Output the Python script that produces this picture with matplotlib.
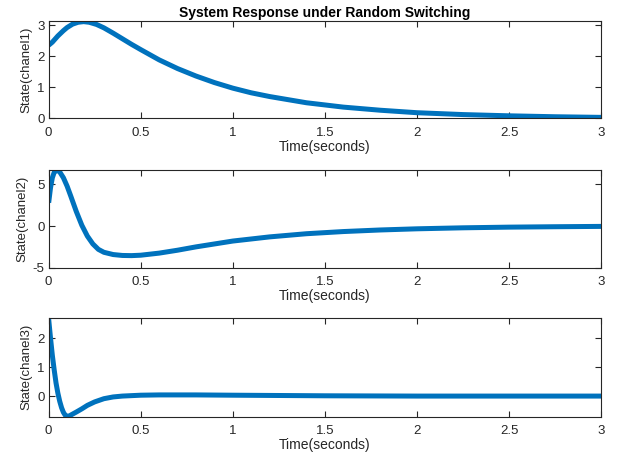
import numpy as np
import matplotlib.pyplot as plt

plt.rcParams['font.family'] = ['Liberation Sans', 'DejaVu Sans']
plt.rcParams['axes.unicode_minus'] = False

# values
t1 = [0, 0.02, 0.05, 0.08, 0.1, 0.13, 0.16, 0.19, 0.22, 0.26, 0.3, 0.35, 0.4, 0.45, 0.5,
      0.6, 0.7, 0.8, 0.9, 1.0, 1.1, 1.2, 1.4, 1.6, 1.8, 2.0, 2.25, 2.5, 2.75, 3.0]
chanel1 = [2.35, 2.45, 2.65, 2.82, 2.92, 3.03, 3.09, 3.11, 3.09, 3.02, 2.91, 2.74, 2.56, 2.38, 2.21,
           1.88, 1.6, 1.36, 1.15, 0.97, 0.82, 0.7, 0.5, 0.36, 0.26, 0.18, 0.12, 0.08, 0.05, 0.03]

t2 = [0, 0.01, 0.02, 0.03, 0.045, 0.06, 0.08, 0.1, 0.12, 0.15, 0.18, 0.21, 0.24, 0.27, 0.3, 0.35,
      0.4, 0.45, 0.5, 0.6, 0.7, 0.8, 0.9, 1.0, 1.2, 1.4, 1.6, 1.8, 2.0, 2.25, 2.5, 2.75, 3.0]
chanel2 = [2.8, 4.6, 5.8, 6.45, 6.7, 6.5, 5.8, 4.8, 3.6, 1.75, 0.1, -1.2, -2.15, -2.8, -3.15, -3.42,
           -3.53, -3.55, -3.5, -3.25, -2.9, -2.5, -2.15, -1.8, -1.3, -0.92, -0.66, -0.47, -0.33, -0.21, -0.13, -0.08, -0.04]

t3 = [0, 0.01, 0.02, 0.03, 0.04, 0.05, 0.06, 0.07, 0.08, 0.09, 0.1, 0.11, 0.13, 0.15, 0.18,
      0.21, 0.25, 0.3, 0.35, 0.4, 0.5, 0.6, 0.7, 0.8, 1.0, 1.25, 1.5, 2.0, 2.5, 3.0]
chanel3 = [2.65, 2.0, 1.4, 0.9, 0.45, 0.1, -0.18, -0.4, -0.56, -0.66, -0.7, -0.69, -0.62, -0.55, -0.44,
           -0.32, -0.2, -0.09, -0.03, 0.0, 0.03, 0.04, 0.04, 0.04, 0.03, 0.02, 0.01, 0.0, 0.0, 0.0]

series = [(t1, chanel1, 'State(chanel1)', (0, 3.14), [0, 1, 2, 3]),
          (t2, chanel2, 'State(chanel2)', (-5, 6.73), [-5, 0, 5]),
          (t3, chanel3, 'State(chanel3)', (-0.71, 2.69), [0, 1, 2])]

xticks = [0, 0.5, 1, 1.5, 2, 2.5, 3]
xtick_labels = ['0', '0.5', '1', '1.5', '2', '2.5', '3']

fig = plt.figure(figsize=(6.2, 4.58), dpi=100)
rects = [[0.0785, 0.7417, 0.891, 0.2131],
         [0.0785, 0.4155, 0.891, 0.2133],
         [0.0785, 0.0902, 0.891, 0.2155]]

for rect, (t, y, lab, yl, yt) in zip(rects, series):
    ax = fig.add_axes(rect)
    ax.plot(t, y, color='#0072BD', lw=3.6, solid_capstyle='butt', solid_joinstyle='round')
    ax.set_xlim(0, 3)
    ax.set_ylim(*yl)
    ax.set_xticks(xticks)
    ax.set_xticklabels(xtick_labels)
    ax.set_yticks(yt)
    ax.tick_params(direction='in', top=True, right=True, length=4, width=0.8,
                   colors='#262626', labelsize=9.5)
    ax.tick_params(axis='x', pad=6)
    ax.tick_params(axis='y', pad=3)
    for s in ax.spines.values():
        s.set_color('#262626')
        s.set_linewidth(0.8)
    ax.set_xlabel('Time(seconds)', fontsize=10, color='#262626', labelpad=1)
    ax.set_ylabel(lab, fontsize=9.5, color='#262626', labelpad=3)
    if lab.endswith('1)'):
        ax.set_title('System Response under Random Switching', fontsize=10,
                     fontweight='bold', pad=3)

fig.savefig('out.png', dpi=100)
